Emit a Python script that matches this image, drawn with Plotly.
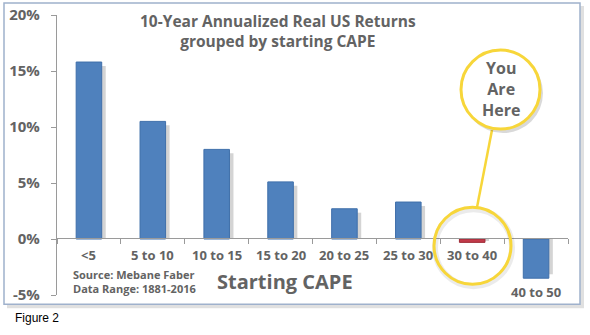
import plotly.graph_objects as go

categories = ["<5", "5 to 10", "10 to 15", "15 to 20", "20 to 25", "25 to 30", "30 to 40", "40 to 50"]
returns = [15.8, 10.5, 8.0, 5.1, 2.7, 3.3, -0.3, -3.5]
bar_colors = ["#4F81BD"] * 6 + ["#C23B4A", "#4F81BD"]
bar_edges = ["#3F6FAA"] * 6 + ["#9E2A36", "#3F6FAA"]
y_ticks = [-5, 0, 5, 10, 15, 20]
title_lines = ["10-Year Annualized Real US Returns", "grouped by starting CAPE"]
callout_lines = ["You", "Are", "Here"]
source_lines = ["Source: Mebane Faber", "Data Range: 1881-2016"]

W, H = 590, 335
L, R = 57, 568          # plot area pixel x
T, B = 15, 294.75       # plot area pixel y
YMIN, YMAX = -5, 20
n = len(categories)

def dx(px):
    return (px - L) / (R - L) * n - 0.5

def dy(py):
    return YMAX - (py - T) / (B - T) * (YMAX - YMIN)

def paper_x(px):
    return (px - L) / (R - L)

def paper_y(py):
    return (B - py) / (B - T)

GRAY = "#636363"
FONT = "Open Sans"

shadow_vals = [(1 if v > 0 else -1) * max(abs(v) - 0.35, abs(v) * 0.5) for v in returns]
xs = list(range(n))

fig = go.Figure()
fig.add_trace(go.Bar(x=xs, y=shadow_vals, width=0.4, offset=-0.2 + 4 / 63.875,
                     marker=dict(color="#D4D4D4", line=dict(width=0)), hoverinfo="skip"))
fig.add_trace(go.Bar(x=xs, y=returns, width=0.4, offset=-0.2,
                     marker=dict(color=bar_colors, line=dict(width=1, color=bar_edges))))

shapes = []
shapes.append(dict(type="rect", xref="paper", yref="paper",
                   x0=paper_x(7), x1=paper_x(584), y0=paper_y(6), y1=paper_y(308),
                   line=dict(width=0), fillcolor="rgba(0,0,0,0.12)", layer="below"))
shapes.append(dict(type="rect", xref="paper", yref="paper",
                   x0=paper_x(4), x1=paper_x(580), y0=paper_y(3), y1=paper_y(304),
                   line=dict(width=1.5, color="#9FB1CC"), fillcolor="white", layer="below"))
shapes.append(dict(type="line", xref="x", yref="y",
                   x0=dx(492), y0=dy(130), x1=dx(477), y1=dy(207),
                   line=dict(color="#F7D63A", width=2.5)))
shapes.append(dict(type="circle", xref="x", yref="y",
                   x0=dx(463), x1=dx(543), y0=dy(53), y1=dy(133),
                   line=dict(width=0), fillcolor="rgba(0,0,0,0.15)"))
shapes.append(dict(type="circle", xref="x", yref="y",
                   x0=dx(461), x1=dx(540), y0=dy(50), y1=dy(129),
                   line=dict(width=3, color="#F7D63A"), fillcolor="white"))
shapes.append(dict(type="circle", xref="x", yref="y",
                   x0=dx(435), x1=dx(512), y0=dy(209), y1=dy(286),
                   line=dict(width=6, color="rgba(0,0,0,0.08)")))
shapes.append(dict(type="circle", xref="x", yref="y",
                   x0=dx(434), x1=dx(511), y0=dy(207), y1=dy(284),
                   line=dict(width=3, color="#F7D63A")))

def text(px, py, s, size, color=GRAY, family=FONT, bold=True, xanchor="center", align="center"):
    return dict(x=paper_x(px), y=paper_y(py), xref="paper", yref="paper",
                text=f"<b>{s}</b>" if bold else s, showarrow=False, xanchor=xanchor,
                yanchor="middle", align=align, font=dict(family=family, size=size, color=color))

annotations = []
for i, c in enumerate(categories):
    yy = dy(292) if returns[i] < -1 else dy(255)
    annotations.append(dict(x=i, y=yy, xref="x", yref="y", text=f"<b>{c}</b>",
                            showarrow=False, yanchor="middle",
                            font=dict(family=FONT, size=13, color=GRAY)))
annotations.append(text(278, 31, "<br>".join(title_lines), 15.5))
annotations.append(text(501, 89, "<br>".join(callout_lines), 16))
annotations.append(text(285, 281, "Starting CAPE", 20))
annotations.append(text(71, 281, "<br>".join(source_lines), 11, xanchor="left", align="left"))
annotations.append(text(13, 318, "Figure 2", 12, color="black", family="Liberation Sans",
                        bold=False, xanchor="left"))

fig.update_layout(
    width=W, height=H,
    margin=dict(l=L, r=W - R, t=T, b=H - B, pad=0, autoexpand=False),
    paper_bgcolor="white", plot_bgcolor="rgba(0,0,0,0)",
    barmode="overlay", showlegend=False,
    shapes=shapes, annotations=annotations,
    xaxis=dict(range=[-0.5, n - 0.5], showticklabels=False, showgrid=False, zeroline=False,
               showline=True, linecolor="#9A9A9A", linewidth=1.2, automargin=False,
               anchor="free", position=paper_y(238),
               tickmode="array", tickvals=[i - 0.5 for i in range(n + 1)],
               ticks="outside", ticklen=5, tickcolor="#9A9A9A"),
    yaxis=dict(range=[YMIN, YMAX], tickvals=y_ticks, ticktext=[f"<b>{v}%</b>" for v in y_ticks],
               showgrid=False, zeroline=False, showline=True, linecolor="#9A9A9A", linewidth=1.2,
               ticks="outside", ticklen=5, tickcolor="#9A9A9A", ticklabelstandoff=8,
               automargin=False,
               tickfont=dict(family=FONT, size=15, color=GRAY)),
)

fig.write_html("out.html")
